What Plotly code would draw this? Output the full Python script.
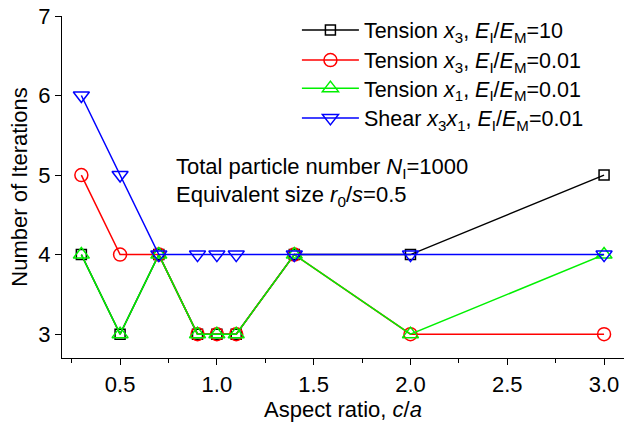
import plotly.graph_objects as go

aspect_ratio = [0.3, 0.5, 0.7, 0.9, 1.0, 1.1, 1.4, 2.0, 3.0]
tension_x3_10 = [4, 3, 4, 3, 3, 3, 4, 4, 5]
tension_x3_001 = [5, 4, 4, 3, 3, 3, 4, 3, 3]
tension_x1_001 = [4, 3, 4, 3, 3, 3, 4, 3, 4]
shear_x3x1_001 = [6, 5, 4, 4, 4, 4, 4, 4, 4]

x_tick_vals = [0.5, 1.0, 1.5, 2.0, 2.5, 3.0]
x_tick_text = ["0.5", "1.0", "1.5", "2.0", "2.5", "3.0"]
x_minor_vals = [0.25, 0.75, 1.25, 1.75, 2.25, 2.75]
y_tick_vals = [3, 4, 5, 6, 7]

names = [
    "Tension <i>x</i><sub>3</sub>, <i>E</i><sub>I</sub>/<i>E</i><sub>M</sub>=10",
    "Tension <i>x</i><sub>3</sub>, <i>E</i><sub>I</sub>/<i>E</i><sub>M</sub>=0.01",
    "Tension <i>x</i><sub>1</sub>, <i>E</i><sub>I</sub>/<i>E</i><sub>M</sub>=0.01",
    "Shear <i>x</i><sub>3</sub><i>x</i><sub>1</sub>, <i>E</i><sub>I</sub>/<i>E</i><sub>M</sub>=0.01",
]
series = [tension_x3_10, tension_x3_001, tension_x1_001, shear_x3x1_001]
colors = ["#000000", "#ff0000", "#00f000", "#0000ff"]
symbols = ["square-open", "circle-open", "triangle-up-open", "triangle-down-open"]
sizes = [10, 13, 14, 14]
legend_ids = ["legend", "legend2", "legend3", "legend4"]
legend_y = [0.959, 0.871, 0.789, 0.702]

FONT = "Liberation Sans, Arial, sans-serif"
LEG_FONT = 21.5

fig = go.Figure()
for n, s, c, sym, sz, lg in zip(names, series, colors, symbols, sizes, legend_ids):
    fig.add_trace(go.Scatter(
        x=aspect_ratio, y=s, name=n, mode="lines+markers", legend=lg,
        line=dict(color=c, width=1.5),
        marker=dict(symbol=sym, size=sz, color=c, line=dict(width=1.5, color=c)),
    ))

fig.add_annotation(x=0.1993, y=0.5556, xref="paper", yref="paper", xanchor="left", yanchor="middle",
                   text="Total particle number <i>N</i><sub>I</sub>=1000", showarrow=False,
                   font=dict(size=22, color="black", family=FONT))
fig.add_annotation(x=0.1993, y=0.4737, xref="paper", yref="paper", xanchor="left", yanchor="middle",
                   text="Equivalent size <i>r</i><sub>0</sub>/<i>s</i>=0.5", showarrow=False,
                   font=dict(size=22, color="black", family=FONT))

legend_common = dict(xanchor="left", yanchor="middle", bgcolor="rgba(0,0,0,0)",
                     font=dict(size=LEG_FONT, family=FONT), itemwidth=57)

layout_legends = {}
for lg, ly in zip(legend_ids, legend_y):
    layout_legends[lg] = dict(x=0.418, y=ly, **legend_common)

fig.update_layout(
    width=624, height=423,
    margin=dict(l=62, r=0, t=16, b=65),
    plot_bgcolor="white", paper_bgcolor="white",
    font=dict(family=FONT, size=22, color="black"),
    showlegend=True,
    xaxis=dict(range=[0.2, 3.103], tickvals=x_tick_vals, ticktext=x_tick_text,
               ticks="outside", ticklen=6, tickwidth=1.3, tickcolor="black",
               minor=dict(tickvals=x_minor_vals, ticks="outside",
                          ticklen=4, tickwidth=1.3, tickcolor="black"),
               showline=True, linecolor="black", linewidth=1.3, showgrid=False, zeroline=False,
               title=dict(text="Aspect ratio, <i>c</i>/<i>a</i>", standoff=0, font=dict(size=22)),
               tickfont=dict(size=22)),
    yaxis=dict(range=[2.7, 7.0], tickvals=y_tick_vals,
               ticks="outside", ticklen=6, tickwidth=1.3, tickcolor="black",
               showline=True, linecolor="black", linewidth=1.3, showgrid=False, zeroline=False,
               title=dict(text="Number of Iterations", standoff=4, font=dict(size=22)),
               tickfont=dict(size=22)),
    **layout_legends,
)

fig.write_html("out.html")
